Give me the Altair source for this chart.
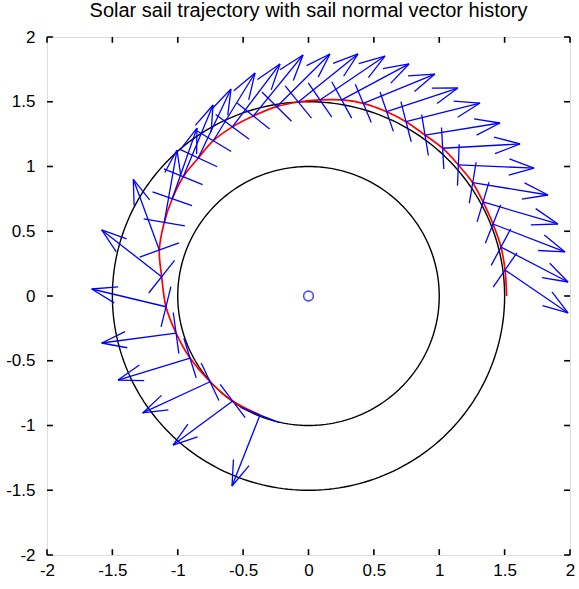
import numpy as np
import pandas as pd
import altair as alt

# ---- data ----
# trajectory start point
start_x = 1.515
start_y = 0.0
# sail positions along the trajectory (quiver bases), in time order
base_x = [1.503, 1.472, 1.411, 1.335, 1.256, 1.146, 1.026, 0.891, 0.746, 0.598,
          0.419, 0.254, 0.088, -0.078, -0.243, -0.422, -0.582, -0.728, -0.843, -0.958,
          -1.042, -1.103, -1.141, -1.123, -1.090, -1.013, -0.906, -0.753, -0.580, -0.371]
base_y = [0.201, 0.378, 0.556, 0.726, 0.875, 1.012, 1.141, 1.243, 1.346, 1.423,
          1.488, 1.514, 1.514, 1.498, 1.462, 1.390, 1.306, 1.199, 1.066, 0.921,
          0.751, 0.569, 0.355, 0.149, -0.083, -0.286, -0.479, -0.662, -0.811, -0.919]
# tips of the sail-normal arrows
tip_x = [1.985, 1.985, 1.962, 1.908, 1.832, 1.725, 1.618, 1.465, 1.312, 1.143,
         0.967, 0.769, 0.585, 0.379, 0.164, -0.042, -0.218, -0.409, -0.593, -0.730,
         -0.853, -1.006, -1.340, -1.582, -1.658, -1.582, -1.457, -1.268, -1.036, -0.585]
tip_y = [-0.131, 0.108, 0.340, 0.556, 0.780, 0.988, 1.174, 1.336, 1.490, 1.606,
         1.714, 1.792, 1.853, 1.869, 1.869, 1.861, 1.792, 1.722, 1.598, 1.475,
         1.297, 1.127, 0.901, 0.510, 0.054, -0.363, -0.649, -0.903, -1.151, -1.467]
# reference orbit radii
orbit_radii = [1.0, 1.5]
tick_values = [-2, -1.5, -1, -0.5, 0, 0.5, 1, 1.5, 2]
title_text = "Solar sail trajectory with sail normal vector history"

# ---- build tables ----
bx, by = np.array(base_x), np.array(base_y)
tx, ty = np.array(tip_x), np.array(tip_y)
u, v = tx - bx, ty - by
alpha = beta = 0.33
h1x = tx - alpha * (u + beta * v)
h1y = ty - alpha * (v - beta * u)
h2x = tx - alpha * (u - beta * v)
h2y = ty - alpha * (v + beta * u)
n = np.hypot(u, v)
half = 0.16
sx, sy = -v / n * half, u / n * half

segs = []
for i in range(len(bx)):
    segs.append((bx[i], by[i], tx[i], ty[i]))
    segs.append((tx[i], ty[i], h1x[i], h1y[i]))
    segs.append((tx[i], ty[i], h2x[i], h2y[i]))
    segs.append((bx[i] - sx[i], by[i] - sy[i], bx[i] + sx[i], by[i] + sy[i]))
seg_df = pd.DataFrame(segs, columns=["x", "y", "x2", "y2"])

traj_df = pd.DataFrame({
    "x": [start_x] + base_x,
    "y": [start_y] + base_y,
    "i": list(range(len(base_x) + 1)),
})

th = np.linspace(0, 2 * np.pi, 241)
circ = []
for r in orbit_radii:
    for k, t in enumerate(th):
        circ.append((r, k, r * np.cos(t), r * np.sin(t)))
circ_df = pd.DataFrame(circ, columns=["r", "k", "x", "y"])

L = 0.045
ticks = []
for t in tick_values:
    ticks.append((t, -2, t, -2 + L))
    ticks.append((t, 2, t, 2 - L))
    ticks.append((-2, t, -2 + L, t))
    ticks.append((2, t, 2 - L, t))
tick_df = pd.DataFrame(ticks, columns=["x", "y", "x2", "y2"])

origin_df = pd.DataFrame({"x": [0.0], "y": [0.0]})

xs = alt.Scale(domain=[-2, 2], nice=False, zero=False)
ys = alt.Scale(domain=[-2, 2], nice=False, zero=False)
xax = alt.Axis(values=tick_values, ticks=False, domain=False, grid=False, title=None,
               labelExpr="toString(datum.value)", labelFont="Liberation Sans",
               labelFontSize=17, labelColor="black", labelPadding=7, labelFlush=False)
yax = alt.Axis(values=tick_values, ticks=False, domain=False, grid=False, title=None,
               labelExpr="toString(datum.value)", labelFont="Liberation Sans",
               labelFontSize=17, labelColor="black", labelPadding=12)

circles = alt.Chart(circ_df).mark_line(color="black", strokeWidth=1.4).encode(
    x=alt.X("x:Q", scale=xs, axis=xax),
    y=alt.Y("y:Q", scale=ys, axis=yax),
    detail="r:N",
    order="k:Q",
)
traj = alt.Chart(traj_df).mark_line(color="red", strokeWidth=1.7, interpolate="catmull-rom").encode(
    x="x:Q", y="y:Q", order="i:Q"
)
arrows = alt.Chart(seg_df).mark_rule(color="blue", strokeWidth=1.3).encode(
    x="x:Q", y="y:Q", x2="x2:Q", y2="y2:Q"
)
origin = alt.Chart(origin_df).mark_point(shape="circle", color="blue", size=95,
                                         strokeWidth=1.6, filled=False).encode(
    x="x:Q", y="y:Q"
)
tickmarks = alt.Chart(tick_df).mark_rule(color="black", strokeWidth=1.6).encode(
    x="x:Q", y="y:Q", x2="x2:Q", y2="y2:Q"
)

chart = alt.layer(circles, traj, arrows, origin, tickmarks).properties(
    width=523, height=518,
    title=alt.TitleParams(title_text, font="Liberation Sans", fontSize=20,
                          fontWeight="normal", color="black", offset=7, anchor="middle"),
    autosize=alt.AutoSizeParams(type="none"),
    padding={"left": 47, "top": 37, "right": 9, "bottom": 34},
).configure_view(stroke="black", strokeWidth=1.6).configure(background="white")

chart.save("out.html", embed_options={"renderer": "svg", "actions": False})
